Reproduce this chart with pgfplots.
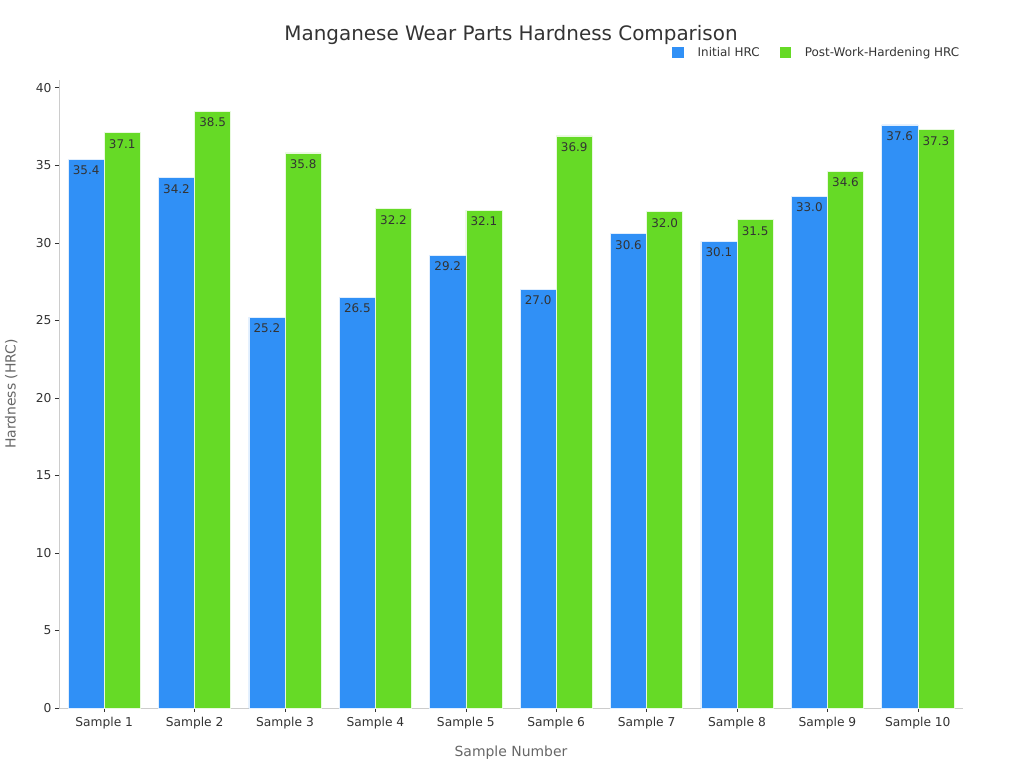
\documentclass[border=0pt]{standalone}
\usepackage{fontspec}
\setmainfont{DejaVu Sans}
\usepackage{pgfplots}
\pgfplotsset{compat=1.18}
\definecolor{cblue}{HTML}{3090F6}
\definecolor{cgreen}{HTML}{66DA26}
\definecolor{ctext}{HTML}{333333}
\definecolor{cgray}{HTML}{666666}
\definecolor{caxis}{HTML}{CCCCCC}
\begin{document}
\begin{tikzpicture}
\path (-59bp,-60bp) rectangle (965bp,708bp);
\begin{axis}[
  at={(0,0)}, anchor=south west,
  scale only axis, width=904bp, height=628bp,
  ybar=0pt, bar width=0.4,
  xmin=-0.5, xmax=9.5, ymin=0, ymax=40.5,
  xtick={0,...,9},
  xticklabels={Sample 1,Sample 2,Sample 3,Sample 4,Sample 5,Sample 6,Sample 7,Sample 8,Sample 9,Sample 10},
  ytick={0,5,...,40},
  axis x line*=bottom, axis y line*=left,
  axis line style={caxis, line width=0.8pt},
  every tick/.style={ctext, line width=0.6pt},
  tick align=outside, major tick length=4bp,
  tick label style={font=\fontsize{12.3}{14}\selectfont, text=ctext},
  xticklabel style={yshift=-2bp},
  /pgf/number format/assume math mode=true,
  xlabel={Sample Number}, ylabel={Hardness (HRC)},
  label style={font=\fontsize{14}{16}\selectfont, text=cgray},
  xlabel style={at={(axis description cs:0.5,0)}, anchor=north, yshift=-34bp},
  ylabel style={at={(axis description cs:0,0.5)}, anchor=south, yshift=38bp},
  title={Manganese Wear Parts Hardness Comparison},
  title style={font=\fontsize{20}{24}\selectfont, text=ctext, at={(0.5,1)}, anchor=south, yshift=26bp},
  legend style={draw=none, fill=none, at={(1.0015,1.043)}, anchor=east,
    font=\fontsize{12}{14}\selectfont, text=ctext, legend columns=2,
    /tikz/every even column/.append style={column sep=18bp},
    /tikz/every odd column/.append style={column sep=0bp}},
  legend image code/.code={\fill[#1, draw=none] (0cm,-0.17cm) rectangle (0.39cm,0.22cm);
    \path[draw=none, fill=none] (0cm,0cm) -- (0.82cm,0cm);},
  nodes near coords,
  nodes near coords style={font=\fontsize{12}{14}\selectfont, text=ctext, anchor=north, yshift=-3bp,
    /pgf/number format/.cd, fixed, fixed zerofill, precision=1, assume math mode=true},
  enlarge x limits=false,
]
\addplot[fill=cblue, draw=white!85!cblue, line width=0.6pt] coordinates {
(0,35.4) (1,34.2) (2,25.2) (3,26.5) (4,29.2) (5,27.0) (6,30.6) (7,30.1) (8,33.0) (9,37.6)};
\addplot[fill=cgreen, draw=white!85!cgreen, line width=0.6pt] coordinates {
(0,37.1) (1,38.5) (2,35.8) (3,32.2) (4,32.1) (5,36.9) (6,32.0) (7,31.5) (8,34.6) (9,37.3)};
\legend{Initial HRC, Post-Work-Hardening HRC}
\end{axis}
\end{tikzpicture}
\end{document}
